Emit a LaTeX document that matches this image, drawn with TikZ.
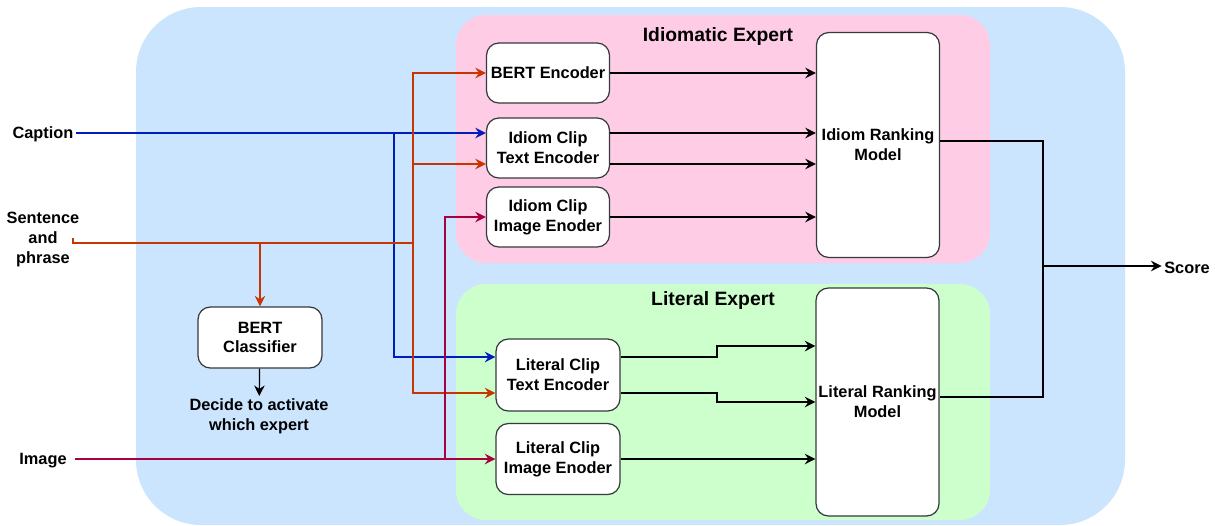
\documentclass[tikz,border=0pt]{standalone}
\usepackage{fontspec}
\setmainfont{Liberation Sans}
\usetikzlibrary{arrows.meta}
\definecolor{bgblue}{HTML}{CCE5FF}
\definecolor{bgpink}{HTML}{FFCCE6}
\definecolor{bggreen}{HTML}{CCFFCC}
\definecolor{capcol}{HTML}{001DBC}
\definecolor{sencol}{HTML}{C73500}
\definecolor{imgcol}{HTML}{A50040}
\definecolor{boxcol}{HTML}{36393D}

\begin{document}
\begin{tikzpicture}[x=.02cm,y=-.02cm,>={Stealth[length=6pt,width=6pt,inset=2pt]},line width=.04cm,
 font=\fontsize{9.3}{11.3}\selectfont\bfseries,
 blk/.style={draw=boxcol,line width=.7pt,fill=white,rounded corners=7pt,align=center,inner sep=1pt},
 inp/.style={align=center,inner sep=1pt,yshift=-1pt},
 ttl/.style={font=\fontsize{11}{13}\selectfont\bfseries,yshift=-1pt},
 capline/.style={capcol},senline/.style={sencol},imgline/.style={imgcol}]
\useasboundingbox(0,0)rectangle(1215,525);
% backgrounds
\fill[bgblue,rounded corners=1.3cm](136,7)rectangle(1125,525);
\fill[bgpink,rounded corners=.6cm](456,15)rectangle(990,263);
\fill[bggreen,rounded corners=.6cm](456,284)rectangle(990,520);
\node[ttl](idt)at(718,35){Idiomatic Expert};
\node[ttl](ltt)at(713,299){Literal Expert};
% inputs
\node[inp](cap)at(43,133){Caption};
\node[inp](sen)at(43,238){Sentence\\and\\phrase};
\node[inp](img)at(43,459){Image};
\node[inp](score)at(1187,266){Score};
% blocks
\node[blk,minimum width=2.46cm,minimum height=1.2cm](bert)at(548,73){BERT Encoder};
\node[blk,minimum width=2.46cm,minimum height=1.2cm](itext)at(548,148){Idiom Clip\\Text Encoder};
\node[blk,minimum width=2.46cm,minimum height=1.2cm](iimg)at(548,217){Idiom Clip\\Image Enoder};
\node[blk,minimum width=2.46cm,minimum height=4.5cm](irank)at(878,145){Idiom Ranking\\Model};
\node[blk,minimum width=2.48cm,minimum height=1.44cm](ltext)at(558,375){Literal Clip\\Text Encoder};
\node[blk,minimum width=2.48cm,minimum height=1.42cm](limg)at(558,459){Literal Clip\\Image Enoder};
\node[blk,minimum width=2.46cm,minimum height=4.56cm](lrank)at(877.5,402){Literal Ranking\\Model};
\node[blk,minimum width=2.48cm,minimum height=1.22cm](cls)at(260,337.5){BERT\\Classifier};
\node[inp](dec)at(259,414.5){Decide to activate\\which expert};
% branch points
\coordinate(sin)at(73,243);\coordinate(jb)at(394,133);\coordinate(jo)at(413,243);\coordinate(jr)at(445,459);
\coordinate(js)at(1043,266);\coordinate(mx)at(717,0);
% caption
\draw[capline,->](cap.east|-jb)--(jb-|itext.west);
\draw[capline,->](jb)|-([yshift=.36cm]ltext.west);
% sentence and phrase
\draw[senline](sin)++(0,-5)--(sin)--(jo);
\draw[senline,->](sin-|cls)--(cls);
\draw[senline,->](jo)|-(bert);\draw[senline,->](jo)|-([yshift=-.32cm]itext.west);\draw[senline,->](jo)|-([yshift=-.36cm]ltext.west);
% image
\draw[imgline,->]([xshift=3pt]img.east|-jr)--(jr-|limg.west);
\draw[imgline,->](jr)|-(iimg);
% into the ranking models
\path([yshift=.3cm]itext.east)coordinate(i1)([yshift=-.32cm]itext.east)coordinate(i2);
\path([yshift=.36cm]ltext.east)coordinate(l1)([yshift=-.36cm]ltext.east)coordinate(l2);
\draw[->](bert)--(bert-|irank.west);\draw[->](i1)--(i1-|irank.west);\draw[->](i2)--(i2-|irank.west);\draw[->](iimg)--(iimg-|irank.west);
\draw[->](l1)--(l1-|mx)|-([yshift=1.12cm]lrank.west);\draw[->](l2)--(l2-|mx)|-(lrank.west);\draw[->](limg)--(limg-|lrank.west);
\draw[line width=.7pt,->](cls)--(dec);
% score
\draw([yshift=.08cm]irank.east)-|(js)|-([yshift=.1cm]lrank.east);
\draw[->](js)--(js-|score.west);
\end{tikzpicture}
\end{document}
